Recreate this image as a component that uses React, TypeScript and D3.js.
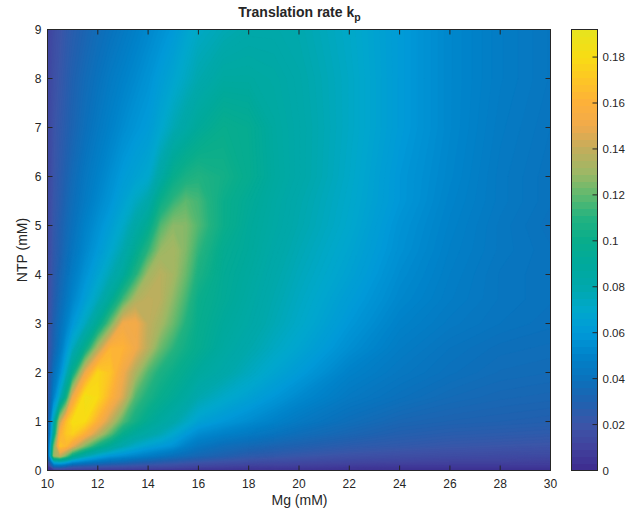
import React from 'react'
import * as d3 from 'd3'

const mg = [10, 10.25, 10.5, 10.75, 11, 11.5, 12, 12.5, 13, 13.5, 14, 14.5, 15, 15.5, 16, 17, 18, 19, 20, 22, 24, 26, 28, 30]
const ntp = [0, 0.1, 0.2, 0.3, 0.5, 0.75, 1, 1.5, 2, 2.5, 3, 3.5, 4, 4.5, 5, 5.5, 6, 7, 8, 9]

// one row per ntp value
const rate = [
  [.001, .002, .003, .004, .005, .005, .005, .005, .005, .005, .005, .005, .005, .005, .004, .004, .004, .004, .004, .003, .003, .003, .003, .003],
  [.008, .04, .042, .036, .03, .027, .025, .023, .022, .02, .019, .018, .017, .015, .014, .0125, .011, .0105, .01, .009, .008, .008, .008, .008],
  [.012, .08, .085, .078, .065, .055, .048, .043, .04, .036, .033, .03, .028, .026, .024, .021, .019, .0175, .016, .014, .013, .012, .012, .011],
  [.014, .13, .14, .122, .1, .08, .068, .06, .056, .052, .048, .044, .04, .037, .034, .03, .026, .024, .022, .019, .017, .016, .015, .015],
  [.016, .12, .17, .165, .15, .125, .105, .092, .08, .072, .066, .062, .058, .05, .044, .038, .035, .032, .03, .026, .024, .022, .021, .02],
  [.017, .09, .16, .172, .176, .16, .14, .12, .1, .09, .084, .078, .07, .062, .055, .05, .046, .042, .038, .033, .029, .027, .026, .025],
  [.018, .08, .14, .168, .182, .18, .16, .14, .118, .105, .095, .088, .082, .074, .066, .06, .055, .05, .045, .038, .033, .031, .03, .029],
  [.018, .05, .075, .105, .15, .186, .18, .162, .145, .118, .108, .1, .094, .088, .08, .072, .066, .06, .054, .045, .04, .036, .034, .033],
  [.018, .04, .055, .075, .1, .15, .178, .17, .152, .135, .118, .108, .102, .096, .09, .083, .075, .068, .062, .05, .044, .04, .037, .036],
  [.017, .032, .045, .06, .075, .1, .135, .163, .162, .152, .138, .122, .112, .104, .098, .088, .081, .074, .068, .056, .047, .042, .039, .038],
  [.016, .03, .04, .05, .06, .075, .095, .122, .152, .153, .14, .133, .122, .11, .1, .091, .085, .078, .072, .06, .05, .045, .042, .04],
  [.015, .027, .036, .044, .052, .064, .076, .092, .115, .135, .14, .138, .128, .116, .102, .094, .087, .08, .074, .063, .053, .047, .043, .041],
  [.015, .025, .033, .04, .047, .058, .067, .078, .09, .11, .132, .138, .133, .122, .108, .095, .089, .082, .076, .066, .055, .048, .043, .041],
  [.014, .024, .03, .037, .043, .053, .061, .069, .08, .095, .112, .13, .133, .126, .113, .097, .091, .084, .078, .068, .057, .049, .044, .041],
  [.013, .023, .029, .035, .04, .05, .057, .064, .072, .084, .096, .118, .128, .127, .118, .102, .092, .086, .08, .07, .058, .05, .044, .04],
  [.013, .022, .027, .033, .038, .046, .053, .059, .066, .074, .082, .102, .113, .12, .116, .102, .094, .087, .081, .071, .06, .051, .045, .041],
  [.012, .021, .026, .031, .036, .044, .05, .056, .062, .066, .07, .085, .1, .107, .11, .105, .098, .089, .083, .072, .06, .052, .045, .041],
  [.012, .02, .024, .028, .032, .039, .045, .05, .055, .059, .062, .069, .078, .085, .092, .1, .097, .088, .083, .073, .062, .053, .046, .042],
  [.012, .018, .022, .026, .03, .036, .041, .046, .05, .054, .058, .063, .068, .074, .08, .088, .088, .086, .082, .073, .062, .053, .047, .043],
  [.011, .016, .02, .024, .027, .032, .037, .041, .045, .049, .053, .057, .061, .067, .073, .078, .082, .082, .08, .072, .062, .053, .047, .043],
]

const colorStops = [0, .01, .02, .03, .04, .05, .06, .07, .08, .09, .1, .11, .12, .13, .14, .15, .16, .17, .18, .192]
const colorValues = ['#3d2a8e', '#41429d', '#3c55a8', '#1f62b0', '#0a72bc', '#0082c9', '#0099d8', '#00a8cc', '#00a8ac', '#00a99c', '#08ad8c', '#22b280', '#60b96e', '#9db865', '#c2ad5c', '#f0aa4c', '#fdb03a', '#fdc526', '#f8dc14', '#e6e41e']

const xTicks = [10, 12, 14, 16, 18, 20, 22, 24, 26, 28, 30]
const yTicks = [0, 1, 2, 3, 4, 5, 6, 7, 8, 9]
const barTicks = [0, .02, .04, .06, .08, .1, .12, .14, .16, .18]

const ink = '#262626'
const font = '"Liberation Sans", Arial, sans-serif'
const left = 47.5
const right = 550.5
const top = 29.5
const bottom = 470.5
const barLeft = 571.5
const barRight = 597.5
const maxRate = 0.192

const x = d3.scaleLinear().domain([10, 30]).range([left, right])
const y = d3.scaleLinear().domain([0, 9]).range([bottom, top])
const barY = d3.scaleLinear().domain([0, maxRate]).range([bottom, top])
const color = d3.scaleLinear<string>().domain(colorStops).range(colorValues).interpolate(d3.interpolateRgb).clamp(true)

// d3.contours puts value i at i + 0.5, the grid is not even so map it back to data units
const gridX = d3.scaleLinear().domain(mg.map((_, i) => i + 0.5)).range(mg).clamp(true)
const gridY = d3.scaleLinear().domain(ntp.map((_, i) => i + 0.5)).range(ntp).clamp(true)

const path = d3.geoPath(d3.geoTransform({
  point(px: number, py: number) {
    this.stream.point(x(gridX(px)), y(gridY(py)))
  }
}))

const levels = d3.range(1, 160).map(i => i * maxRate / 160)
const bands = d3.contours().size([mg.length, ntp.length]).thresholds(levels)(rate.flat())

const barSteps = d3.range(64)

export default function App() {
  return (
    <svg width={635} height={509} style={{ position: 'absolute', left: 0, top: 0, fontFamily: font }}>
      <rect x={left} y={top} width={right - left} height={bottom - top} fill={color(0)} />
      {bands.map(b => (
        <path key={b.value} d={path(b) || ''} fill={color(b.value)} stroke={color(b.value)} strokeWidth={0.3} />
      ))}

      {xTicks.map(t => (
        <g key={t}>
          <line x1={x(t)} x2={x(t)} y1={bottom} y2={bottom - 5} stroke={ink} />
          <line x1={x(t)} x2={x(t)} y1={top} y2={top + 5} stroke={ink} />
          <text x={x(t)} y={bottom + 17.5} textAnchor="middle" fontSize={12} fill={ink}>{t}</text>
        </g>
      ))}
      {yTicks.map(t => (
        <g key={t}>
          <line x1={left} x2={left + 5} y1={y(t)} y2={y(t)} stroke={ink} />
          <line x1={right} x2={right - 5} y1={y(t)} y2={y(t)} stroke={ink} />
          <text x={left - 6} y={y(t) + 4} textAnchor="end" fontSize={12} fill={ink}>{t}</text>
        </g>
      ))}
      <rect x={left} y={top} width={right - left} height={bottom - top} fill="none" stroke={ink} />

      <text x={299.5} y={17} textAnchor="middle" fontSize={14} fontWeight="bold" fill={ink}>
        Translation rate k<tspan fontSize={10.5} dy={4}>p</tspan>
      </text>
      <text x={299.5} y={505} textAnchor="middle" fontSize={14} fill={ink}>Mg (mM)</text>
      <text transform={`translate(27,${(top + bottom) / 2}) rotate(-90)`} textAnchor="middle" fontSize={14} fill={ink}>NTP (mM)</text>

      {barSteps.map(i => {
        const v0 = i * maxRate / 64
        const v1 = (i + 1) * maxRate / 64
        return <rect key={i} x={barLeft} width={barRight - barLeft} y={barY(v1)} height={barY(v0) - barY(v1) + 0.5} fill={color((v0 + v1) / 2)} shapeRendering="crispEdges" />
      })}
      <rect x={barLeft} y={top} width={barRight - barLeft} height={bottom - top} fill="none" stroke={ink} />
      {barTicks.map(t => (
        <g key={t}>
          <line x1={barRight - 5} x2={barRight} y1={barY(t)} y2={barY(t)} stroke={ink} />
          <text x={barRight + 5} y={barY(t) + 4} fontSize={11.5} fill={ink}>{t}</text>
        </g>
      ))}
    </svg>
  )
}
